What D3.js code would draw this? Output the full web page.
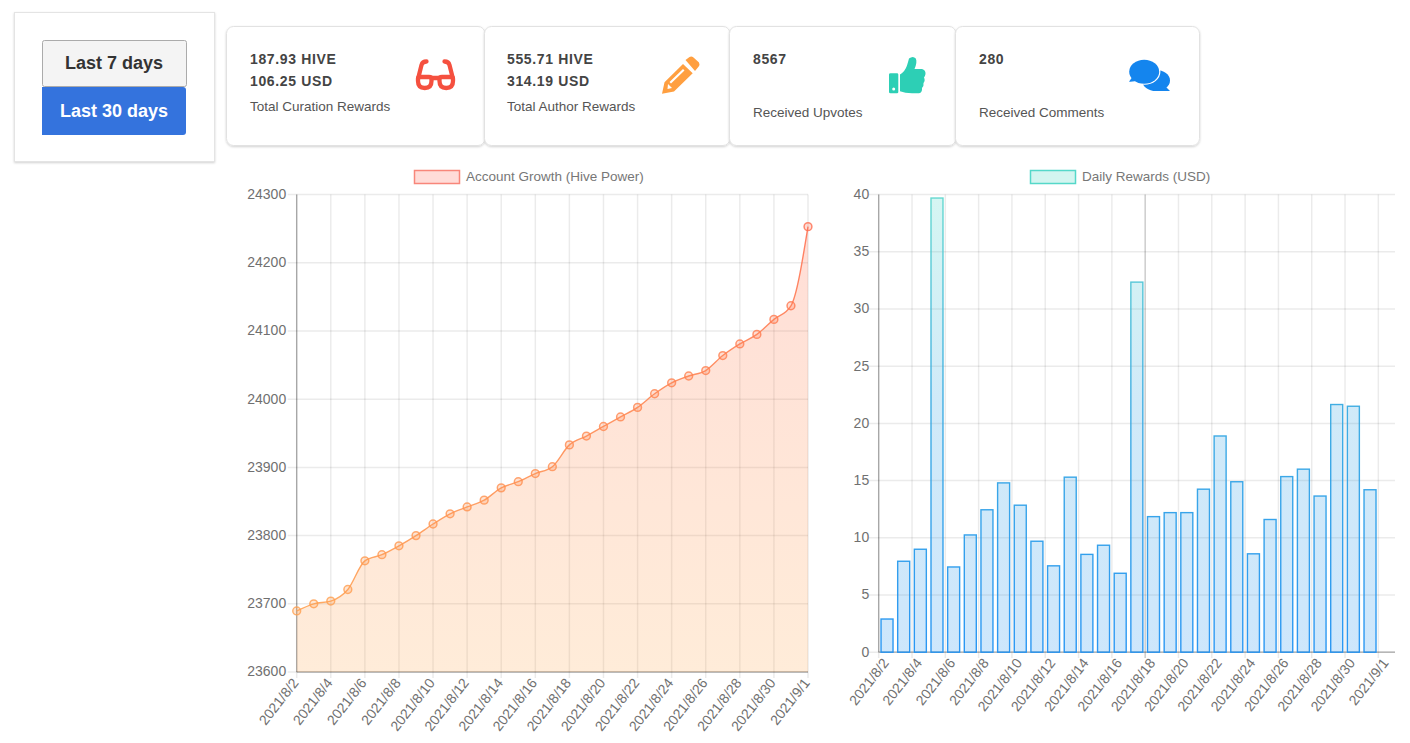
<!DOCTYPE html>
<html><head><meta charset="utf-8">
<script src="https://d3js.org/d3.v7.min.js"></script>
<style>
html,body{margin:0;padding:0;background:#fff;width:1410px;height:743px;overflow:hidden}
svg{display:block;font-family:"Liberation Sans",Arial,sans-serif}
</style></head><body><svg id="c" width="1410" height="743"></svg>
<script>
const dates = ["2021/8/2","2021/8/3","2021/8/4","2021/8/5","2021/8/6","2021/8/7","2021/8/8","2021/8/9","2021/8/10","2021/8/11","2021/8/12","2021/8/13","2021/8/14","2021/8/15","2021/8/16","2021/8/17","2021/8/18","2021/8/19","2021/8/20","2021/8/21","2021/8/22","2021/8/23","2021/8/24","2021/8/25","2021/8/26","2021/8/27","2021/8/28","2021/8/29","2021/8/30","2021/8/31","2021/9/1"];
const hivePower = [23689.5,23700,23704,23721,23763,23772,23785,23800,23817,23832,23842,23852,23870,23879,23891,23901,23933,23946,23960,23974,23988,24008,24024,24034,24042,24064,24081,24095,24117,24137,24253];
const dailyRewards = [2.9,7.95,9,39.7,7.45,10.25,12.45,14.8,12.85,9.7,7.55,15.3,8.55,9.35,6.9,32.35,11.85,12.2,12.2,14.25,18.9,14.9,8.6,11.6,15.35,16,13.65,21.65,21.5,14.2,null];
const hiveTicks = [23600,23700,23800,23900,24000,24100,24200,24300];
const rewardTicks = [0,5,10,15,20,25,30,35,40];
const cards = [
 {l1:"187.93 HIVE",l2:"106.25 USD",cap:"Total Curation Rewards"},
 {l1:"555.71 HIVE",l2:"314.19 USD",cap:"Total Author Rewards"},
 {l1:"8567",l2:"",cap:"Received Upvotes"},
 {l1:"280",l2:"",cap:"Received Comments"}];

const svg = d3.select("#c");
const defs = svg.append("defs");
const sh = defs.append("filter").attr("id","sh").attr("x","-5%").attr("y","-5%").attr("width","110%").attr("height","115%");
sh.append("feDropShadow").attr("dx",0).attr("dy",1).attr("stdDeviation",1.2).attr("flood-color","#000").attr("flood-opacity",0.18);
function grad(id,y1,y2,stops){
  const g=defs.append("linearGradient").attr("id",id).attr("gradientUnits","userSpaceOnUse").attr("x1",0).attr("x2",0).attr("y1",y1).attr("y2",y2);
  stops.forEach(s=>g.append("stop").attr("offset",s[0]).attr("stop-color",s[1]).attr("stop-opacity",s[2]));
}
// ---- buttons panel
svg.append("rect").attr("x",14.5).attr("y",12.5).attr("width",200).attr("height",149).attr("fill","#fff").attr("stroke","#e4e4e4").attr("filter","url(#sh)");
svg.append("rect").attr("x",42.5).attr("y",40.5).attr("width",144).attr("height",46).attr("rx",2).attr("fill","#f4f4f4").attr("stroke","#ababab");
svg.append("text").attr("x",114).attr("y",68.5).attr("text-anchor","middle").attr("font-size",18).attr("font-weight",700).attr("fill","#333").text("Last 7 days");
svg.append("path").attr("d","M42 87H183a3 3 0 0 1 3 3V132a3 3 0 0 1-3 3H42Z").attr("fill","#3473dd");
svg.append("text").attr("x",114).attr("y",116.5).attr("text-anchor","middle").attr("font-size",18).attr("font-weight",700).attr("fill","#fff").text("Last 30 days");
// ---- stat cards
const cardX=[[226.5,485],[484.5,730],[729.5,956],[955.5,1199.5]];
const textX=[250,507,753,979];
cards.forEach((c,i)=>{
  const g=svg.append("g");
  g.append("rect").attr("x",cardX[i][0]).attr("y",26.5).attr("width",cardX[i][1]-cardX[i][0]).attr("height",119).attr("rx",7).attr("fill","#fff").attr("stroke","#e2e2e2").attr("filter","url(#sh)");
  g.append("text").attr("x",textX[i]).attr("y",64).attr("font-size",14).attr("font-weight",700).attr("letter-spacing",0.65).attr("fill","#444").text(c.l1);
  if(c.l2) g.append("text").attr("x",textX[i]).attr("y",85.5).attr("font-size",14).attr("font-weight",700).attr("letter-spacing",0.65).attr("fill","#444").text(c.l2);
  g.append("text").attr("x",textX[i]).attr("y",c.l2?111:117).attr("font-size",13.5).attr("fill","#555").text(c.cap);
});
// ---- icons
const ig=svg.append("g");
ig.append("g").attr("fill","none").attr("stroke","#f5503f").attr("stroke-width",4.3).attr("stroke-linecap","round").call(g=>{
  g.append("path").attr("d","M418 79Q418 77 420 77H429Q431.5 77 431.5 79V81Q431.5 88 424.8 88Q418 88 418 81Z");
  g.append("path").attr("d","M453 79Q453 77 451 77H442Q439.5 77 439.5 79V81Q439.5 88 446.2 88Q453 88 453 81Z");
  g.append("path").attr("d","M418 79L421.5 65Q422.5 61.5 426.5 61.5");
  g.append("path").attr("d","M453 79L449.5 65Q448.5 61.5 444.5 61.5");
  g.append("path").attr("d","M431.5 78H439.5");
});
ig.append("path").attr("fill","#ff9f40").attr("fill-rule","evenodd").attr("d","M662 93.8L664.5 82.3L683 64L692.7 73.3L674 91.5ZM667.5 89L672 88L668 84ZM685.5 60L689.5 57Q691.5 56 693.5 57.5L699 62.5Q700 64.5 698.7 66.5L695 71ZM671 83.5L684.5 70.5L683 69L669.5 82Z");
ig.append("path").attr("fill","#2dcfb5").attr("d","M890.5 73.3H897Q898.3 73.3 898.3 74.6V92Q898.3 93.3 897 93.3H890.5Q889 93.3 889 92V74.6Q889 73.3 890.5 73.3ZM900 74.5Q905 71.5 907 65.5Q908.5 60.5 909 58.5Q913 55.5 915.8 58.5Q917.5 62 914.5 69H922Q925.8 70 925.5 74Q925 76.5 924 77.5Q925.5 80.5 923.5 83Q924 86.5 922 88Q922.5 92.5 919 93.3H912Q905 93.3 900 91.3Z");
ig.append("circle").attr("cx",893.7).attr("cy",89).attr("r",1.5).attr("fill","#fff");
// comments
ig.append("ellipse").attr("cx",1156).attr("cy",80.5).attr("rx",14).attr("ry",10.5).attr("fill","#1485ee");
ig.append("path").attr("fill","#1485ee").attr("d","M1163 84L1170 91H1158Z");
ig.append("ellipse").attr("cx",1144.2).attr("cy",71.8).attr("rx",16.2).attr("ry",13).attr("fill","#fff");
ig.append("ellipse").attr("cx",1144.2).attr("cy",71.8).attr("rx",15).attr("ry",12).attr("fill","#1485ee");
ig.append("path").attr("fill","#1485ee").attr("d","M1133 76L1129 81.7Q1134 82 1139 80Z");

// ---- axis helpers
const tickColor="#707070", gridOp=0.08;
function styleAxis(g){
  g.selectAll("text").attr("fill",tickColor).attr("font-size",14).attr("font-family",'"Liberation Sans",Arial,sans-serif');
  g.select(".domain").attr("stroke","#000").attr("stroke-opacity",0.3).attr("stroke-width",1.3);
  g.selectAll(".tick line").attr("stroke","#000").attr("stroke-opacity",gridOp).attr("stroke-width",1.5);
}
function rotateLabels(g){
  g.selectAll("text").attr("x",0).attr("y",0).attr("dy",0).attr("text-anchor","end").attr("transform","translate(2.5,11) rotate(-52)");
}
function legend(x,w,tx,label,fill,stroke){
  svg.append("rect").attr("x",x+.5).attr("y",170.5).attr("width",w).attr("height",13).attr("fill",fill).attr("stroke",stroke).attr("stroke-width",1.5);
  svg.append("text").attr("x",tx).attr("y",181).attr("font-size",13.5).attr("fill","#777").text(label);
}
const everyOther = dates.filter((d,i)=>i%2===0);
// ---- left chart
const x1=d3.scalePoint().domain(dates).range([296.7,808]);
const y1=d3.scaleLinear().domain([23600,24300]).range([672,194.6]);
const L=svg.append("g");
grad("lineFill",195,672,[[0,"#ff6347",0.22],[1,"#ffa040",0.2]]);
grad("lineStroke",195,672,[[0,"#ff6a50",1],[1,"#ffa850",1]]);
const areaGen=d3.area().x((d,i)=>x1(dates[i])).y0(y1(23600)).y1(d=>y1(d)).curve(d3.curveMonotoneX);
const lineGen=d3.line().x((d,i)=>x1(dates[i])).y(d=>y1(d)).curve(d3.curveMonotoneX);
const xA1=L.append("g").attr("transform","translate(0,672)").call(d3.axisBottom(x1).offset(0).tickValues(everyOther).tickSize(-477.4).tickSizeOuter(0));
styleAxis(xA1); rotateLabels(xA1);
xA1.selectAll(".tick line").attr("y2",6).attr("y1",-477.4);
const yA1=L.append("g").attr("transform","translate(296.7,0)").call(d3.axisLeft(y1).offset(0).tickValues(hiveTicks).tickFormat(d3.format("d")).tickSize(-511.3).tickSizeOuter(0));
styleAxis(yA1);
yA1.selectAll(".tick line").attr("x1",-9).attr("x2",511.3);
yA1.selectAll("text").attr("x",-10.5);
L.append("path").datum(hivePower).attr("d",areaGen).attr("fill","url(#lineFill)");
L.append("path").datum(hivePower).attr("d",lineGen).attr("fill","none").attr("stroke","url(#lineStroke)").attr("stroke-width",1.4).attr("stroke-opacity",0.88);
const pc=d=>d3.interpolateRgb("#ff6a50","#ffa850")((y1(d)-195)/477);
L.selectAll("circle").data(hivePower).join("circle").attr("cx",(d,i)=>x1(dates[i])).attr("cy",d=>y1(d)).attr("r",3.9)
  .attr("fill",pc).attr("fill-opacity",0.25).attr("stroke",pc).attr("stroke-opacity",0.8).attr("stroke-width",1.5);
legend(414,45,466,"Account Growth (Hive Power)","#ffdcd8","#f8867a");
// ---- right chart
const x2=d3.scaleBand().domain(dates).range([878.7,1395]);
const y2=d3.scaleLinear().domain([0,40]).range([652.2,194.6]);
const R=svg.append("g");
grad("barFill",195,652,[[0,"#2dcfc0",0.2],[0.45,"#2a9fe0",0.22],[1,"#1e90f0",0.22]]);
grad("barStroke",195,652,[[0,"#5ad6cc",1],[0.45,"#33a8e0",1],[1,"#1a8ff2",1]]);
const xA2=R.append("g").attr("transform","translate(0,652.2)").call(d3.axisBottom(x2).offset(0).tickValues(everyOther).tickSize(0).tickSizeOuter(0));
xA2.selectAll(".tick line").remove();
styleAxis(xA2); rotateLabels(xA2);
R.append("g").selectAll("line").data(everyOther).join("line").attr("x1",d=>x2(d)).attr("x2",d=>x2(d)).attr("y1",194.6).attr("y2",658).attr("stroke","#000").attr("stroke-width",1.5).attr("stroke-opacity",d=>d==="2021/8/18"?0.2:gridOp);
const yA2=R.append("g").attr("transform","translate(878.7,0)").call(d3.axisLeft(y2).offset(0).tickValues(rewardTicks).tickSize(-516.3).tickSizeOuter(0));
styleAxis(yA2);
yA2.selectAll(".tick line").attr("x1",-10).attr("x2",516.3);
yA2.selectAll("text").attr("x",-9.5);
const bw=12;
R.selectAll("rect.b").data(dailyRewards.map((v,i)=>({v,d:dates[i]})).filter(o=>o.v!=null)).join("rect").attr("class","b")
 .attr("x",o=>x2(o.d)+x2.bandwidth()/2-bw/2).attr("y",o=>y2(o.v)).attr("width",bw).attr("height",o=>y2(0)-y2(o.v))
 .attr("fill","url(#barFill)").attr("stroke","url(#barStroke)").attr("stroke-width",1.4).attr("stroke-opacity",0.92);
legend(1030,45,1082,"Daily Rewards (USD)","#d3f5f0","#55d8c9");
</script></body></html>
